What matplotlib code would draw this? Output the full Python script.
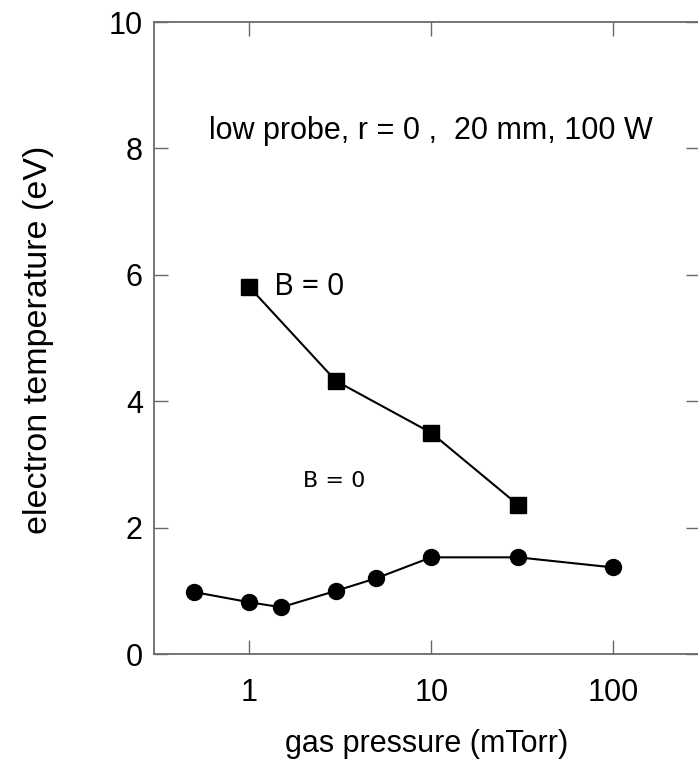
import matplotlib
matplotlib.use("Agg")
import matplotlib.pyplot as plt

# Electron temperature vs. gas pressure
pressure_sq = [1, 3, 10, 30]
te_sq = [5.81, 4.32, 3.50, 2.36]

pressure_circ = [0.5, 1, 1.5, 3, 5, 10, 30, 100]
te_circ = [0.98, 0.82, 0.74, 1.00, 1.20, 1.53, 1.53, 1.37]

x_ticks = [1, 10, 100]
x_ticklabels = ["1", "10", "100"]
y_ticks = [0, 2, 4, 6, 8, 10]

plt.rcParams["font.family"] = ["Liberation Sans", "DejaVu Sans"]

fig = plt.figure(figsize=(6.98, 7.68), dpi=100)
ax = fig.add_axes([0.2206, 0.1484, 0.7825, 0.8229])

ax.plot(pressure_sq, te_sq, color="black", lw=1.5, marker="s", ms=12,
        mfc="black", mec="black", zorder=3)
ax.plot(pressure_circ, te_circ, color="black", lw=1.5, marker="o", ms=11.5,
        mfc="black", mec="black", zorder=3)

ax.set_xscale("log")
ax.set_xlim(0.3, 300)
ax.set_ylim(0, 10)
ax.set_xticks(x_ticks)
ax.set_xticklabels(x_ticklabels)
ax.xaxis.set_minor_locator(matplotlib.ticker.NullLocator())
ax.set_yticks(y_ticks)

spine_color = "#6a6a6a"
for s in ax.spines.values():
    s.set_color(spine_color)
    s.set_linewidth(1.3)

ax.tick_params(axis="both", which="major", direction="in", length=10,
               width=1.0, color=spine_color, labelsize=22,
               top=True, right=True)
ax.tick_params(axis="x", pad=17)
ax.tick_params(axis="y", pad=8)

ax.set_xlabel("gas pressure (mTorr)", fontsize=22)
ax.xaxis.set_label_coords(0.5, -0.118)
ax.set_ylabel("electron temperature (eV)", fontsize=24.5)
ax.yaxis.set_label_coords(-0.183, 0.497)

ax.text(0.507, 0.828, "low probe, r = 0 ,  20 mm, 100 W", transform=ax.transAxes,
        ha="center", va="center", fontsize=22)
ax.annotate("B = 0", xy=(1, 5.81), xytext=(18, 0), textcoords="offset points",
            ha="left", va="center", fontsize=22, family=["Open Sans", "DejaVu Sans"])
ax.text(0.330, 0.274, "B = 0", transform=ax.transAxes, ha="center", va="center",
        fontsize=16, family=["DejaVu Sans"])

fig.savefig("out.png", dpi=100)
